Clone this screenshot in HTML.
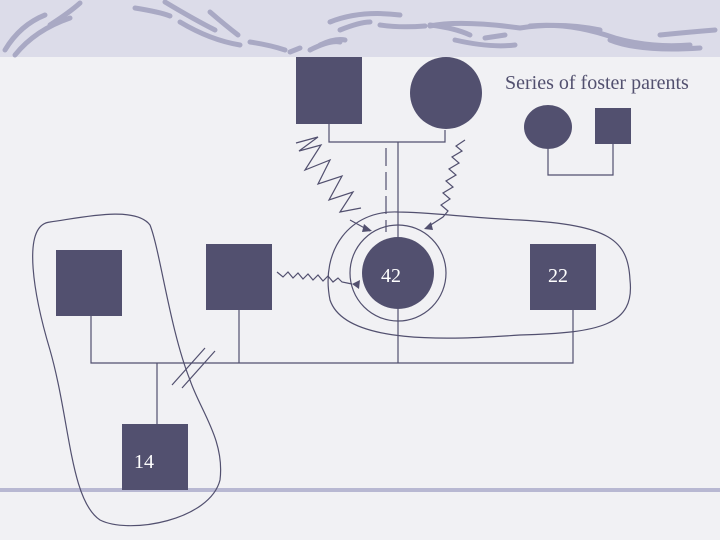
<html><body style="margin:0;width:720px;height:540px;overflow:hidden;background:#f1f1f4">
<svg width="720" height="540" xmlns="http://www.w3.org/2000/svg" style="position:absolute;left:0;top:0">
<rect x="0" y="0" width="720" height="57" fill="#dcdce9"/>
<g stroke="#a9a9c4" stroke-width="5" fill="none" stroke-linecap="round">
<path d="M5 50 Q20 25 45 15"/><path d="M15 55 Q35 30 70 18"/><path d="M50 25 Q70 12 80 3"/>
<path d="M135 8 Q160 12 170 16"/><path d="M165 2 Q195 20 215 30"/><path d="M180 22 Q210 40 240 45"/>
<path d="M210 12 Q225 25 238 35"/><path d="M250 42 Q270 45 285 50"/><path d="M290 52 L300 48"/>
<path d="M330 22 Q360 10 400 15"/><path d="M340 30 Q360 22 370 22"/><path d="M380 25 Q400 28 425 26"/>
<path d="M430 25 Q455 28 470 35"/><path d="M455 40 Q490 48 515 45"/><path d="M485 38 L505 35"/>
<path d="M320 45 Q335 38 345 40"/><path d="M310 50 Q330 40 340 42"/>
<path d="M430 26 Q460 20 520 28 Q560 22 600 30"/><path d="M530 26 Q570 22 615 38 Q650 48 690 45"/>
<path d="M610 40 Q640 52 700 48"/><path d="M660 35 Q690 32 715 30"/>
</g>
<line x1="0" y1="490" x2="720" y2="490" stroke="#b8b8d2" stroke-width="4"/>
<g fill="#52506f">
<rect x="296" y="57" width="66" height="67"/>
<circle cx="446" cy="93" r="36"/>
<ellipse cx="548" cy="127" rx="24" ry="22"/>
<rect x="595" y="108" width="36" height="36"/>
<rect x="56" y="250" width="66" height="66"/>
<rect x="206" y="244" width="66" height="66"/>
<circle cx="398" cy="273" r="36"/>
<rect x="530" y="244" width="66" height="66"/>
<rect x="122" y="424" width="66" height="66"/>
</g>
<g stroke="#52506f" stroke-width="1.2" fill="none">
<path d="M548 149 V175 H613 V144"/>
<path d="M329 124 V142 H445 V130"/>
<line x1="398" y1="142" x2="398" y2="237"/>
<line x1="386" y1="148" x2="386" y2="232" stroke-dasharray="18,6"/>
<path d="M296 143 L318 137 L299 151 L321 145 L305 170 L330 160 L318 184 L342 176 L329 200 L353 192 L340 212 L361 208"/>
<path d="M350 220 L370 231"/>
<path d="M465 140 L456 146 L462 151 L452 157 L459 163 L449 169 L456 175 L446 181 L453 187 L443 193 L450 199 L441 205 L448 211 L443 217 L426 228"/>
<path d="M277 272 L283 277 L288 272 L293 278 L298 273 L303 279 L308 274 L313 280 L318 275 L323 281 L328 276 L333 282 L338 278 L342 282 L352 284"/>
<circle cx="398" cy="273" r="48"/>
<path d="M398 212 C350 210 320 250 330 300 C345 345 450 340 520 335 C600 333 635 325 630 280 C628 240 610 225 520 220 C470 218 430 212 398 212 Z"/>
<path d="M91 316 V363 H573 V310"/><line x1="239" y1="310" x2="239" y2="363"/><line x1="398" y1="309" x2="398" y2="363"/>
<line x1="157" y1="363" x2="157" y2="424"/>
<line x1="172" y1="385" x2="205" y2="348"/><line x1="182" y1="388" x2="215" y2="351"/>
<path d="M50 222 C20 225 35 300 50 350 C70 420 70 500 100 520 C130 535 210 520 220 480 C225 440 200 410 190 380 C170 330 160 250 150 225 C135 205 80 218 50 222 Z"/>
</g>
<g fill="#52506f"><path d="M372 231 L364 224 L362 232Z"/><path d="M424 229 L431 222 L433 230Z"/><path d="M352 284 L360 280 L359 289Z"/></g>
<g font-family="Liberation Serif, serif" font-size="20" fill="#fff">
<text x="381" y="282">42</text><text x="548" y="282">22</text><text x="134" y="468">14</text></g>
<text x="505" y="89" font-family="Liberation Serif, serif" font-size="20" fill="#52506f">Series of foster parents</text>
</svg></body></html>
